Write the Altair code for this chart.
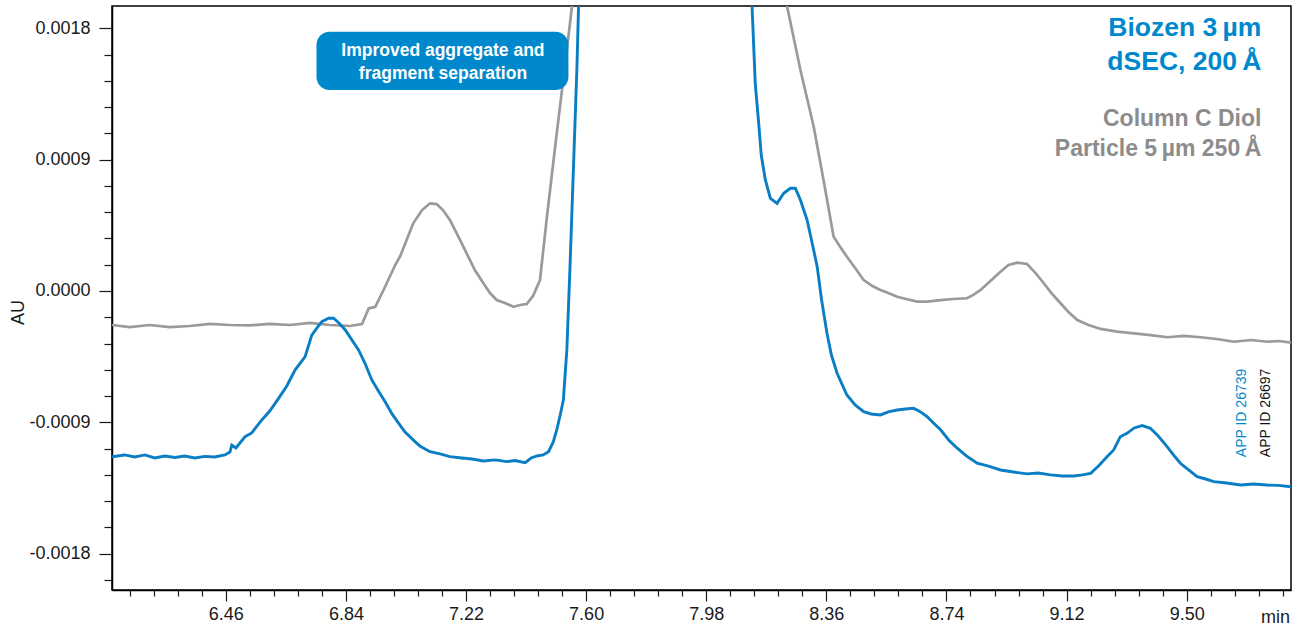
import altair as alt
import pandas as pd

# ---------------- data (retention time in min, absorbance in AU) ----------------
gray_time = [6.100, 6.156, 6.219, 6.283, 6.346, 6.409, 6.473, 6.536, 6.599, 6.663,
             6.726, 6.789, 6.853, 6.891, 6.912, 6.933, 6.964, 6.996, 7.011, 7.053,
             7.081, 7.106, 7.127, 7.147, 7.169, 7.195, 7.222, 7.248, 7.275, 7.296,
             7.317, 7.343, 7.370, 7.391, 7.412, 7.432, 7.454, 7.476, 7.507, 7.539,
             7.555, 7.585, 8.190, 8.236, 8.278, 8.320, 8.351, 8.383, 8.404, 8.425,
             8.451, 8.478, 8.506, 8.531, 8.556, 8.584, 8.613, 8.647, 8.679, 8.721,
             8.762, 8.805, 8.825, 8.848, 8.879, 8.911, 8.936, 8.964, 8.995, 9.022,
             9.048, 9.072, 9.101, 9.126, 9.154, 9.189, 9.228, 9.280, 9.333, 9.386,
             9.439, 9.490, 9.544, 9.595, 9.650, 9.703, 9.756, 9.791, 9.832]
gray_au = [-0.000233, -0.000247, -0.000233, -0.000247, -0.000240, -0.000226, -0.000233,
           -0.000236, -0.000226, -0.000233, -0.000219, -0.000233, -0.000240, -0.000226,
           -0.000119, -0.000108, 0.000029, 0.000178, 0.000235, 0.000464, 0.000555,
           0.000601, 0.000596, 0.000555, 0.000487, 0.000377, 0.000258, 0.000144,
           0.000053, -0.000014, -0.000062, -0.000082, -0.000108, -0.000096, -0.000089,
           -0.000034, 0.000075, 0.000509, 0.001081, 0.001652, 0.001949, 0.002400,
           0.002400, 0.001949, 0.001515, 0.001126, 0.000761, 0.000372, 0.000302,
           0.000235, 0.000158, 0.000075, 0.000034, 0.000007, -0.000014, -0.000039,
           -0.000055, -0.000073, -0.000073, -0.000062, -0.000055, -0.000050, -0.000027,
           0.000007, 0.000069, 0.000132, 0.000178, 0.000194, 0.000185, 0.000123,
           0.000053, -0.000014, -0.000084, -0.000144, -0.000199, -0.000233, -0.000260,
           -0.000279, -0.000290, -0.000302, -0.000317, -0.000308, -0.000317, -0.000329,
           -0.000348, -0.000336, -0.000348, -0.000343, -0.000354]

blue_time = [6.100, 6.140, 6.172, 6.204, 6.235, 6.267, 6.299, 6.330, 6.362, 6.394,
             6.425, 6.457, 6.473, 6.479, 6.492, 6.521, 6.542, 6.574, 6.599, 6.627,
             6.653, 6.679, 6.711, 6.732, 6.748, 6.764, 6.785, 6.801, 6.818, 6.838,
             6.859, 6.880, 6.900, 6.922, 6.941, 6.964, 6.986, 7.007, 7.027, 7.053,
             7.074, 7.106, 7.138, 7.169, 7.207, 7.239, 7.275, 7.312, 7.349, 7.375,
             7.407, 7.426, 7.444, 7.464, 7.481, 7.496, 7.507, 7.518, 7.528, 7.539,
             7.549, 7.560, 7.571, 7.576, 7.582, 8.116, 8.125, 8.135, 8.146, 8.154,
             8.167, 8.183, 8.204, 8.225, 8.246, 8.262, 8.278, 8.299, 8.313, 8.331,
             8.345, 8.362, 8.376, 8.394, 8.408, 8.425, 8.451, 8.478, 8.502, 8.531,
             8.556, 8.584, 8.610, 8.636, 8.657, 8.679, 8.699, 8.722, 8.747, 8.774,
             8.803, 8.837, 8.873, 8.911, 8.952, 8.995, 9.031, 9.069, 9.107, 9.143,
             9.170, 9.196, 9.221, 9.248, 9.269, 9.290, 9.311, 9.334, 9.359, 9.385,
             9.410, 9.438, 9.458, 9.480, 9.506, 9.533, 9.560, 9.586, 9.626, 9.671,
             9.712, 9.754, 9.790, 9.832]
blue_au = [-0.001136, -0.001124, -0.001138, -0.001124, -0.001145, -0.001131, -0.001141,
           -0.001131, -0.001145, -0.001134, -0.001138, -0.001124, -0.001104, -0.001056,
           -0.001076, -0.000999, -0.000973, -0.000884, -0.000823, -0.000736, -0.000651,
           -0.000542, -0.000450, -0.000302, -0.000254, -0.000210, -0.000187, -0.000187,
           -0.000219, -0.000267, -0.000336, -0.000404, -0.000494, -0.000610, -0.000679,
           -0.000759, -0.000843, -0.000907, -0.000967, -0.001021, -0.001063, -0.001102,
           -0.001117, -0.001136, -0.001145, -0.001152, -0.001165, -0.001158, -0.001170,
           -0.001162, -0.001177, -0.001145, -0.001131, -0.001124, -0.001102, -0.001035,
           -0.000953, -0.000850, -0.000747, -0.000404, 0.000167, 0.000852, 0.001538,
           0.001949, 0.002420, 0.002420, 0.001949, 0.001424, 0.001150, 0.000932,
           0.000761, 0.000635, 0.000601, 0.000670, 0.000704, 0.000704, 0.000624,
           0.000487, 0.000350, 0.000167, -0.000062, -0.000290, -0.000439, -0.000564,
           -0.000631, -0.000713, -0.000781, -0.000827, -0.000843, -0.000850, -0.000829,
           -0.000816, -0.000809, -0.000804, -0.000827, -0.000862, -0.000905, -0.000953,
           -0.001021, -0.001078, -0.001131, -0.001181, -0.001200, -0.001227, -0.001241,
           -0.001254, -0.001248, -0.001261, -0.001268, -0.001268, -0.001261, -0.001250,
           -0.001200, -0.001136, -0.001090, -0.000999, -0.000976, -0.000939, -0.000923,
           -0.000941, -0.000994, -0.001067, -0.001124, -0.001181, -0.001227, -0.001273,
           -0.001289, -0.001307, -0.001316, -0.001330, -0.001323, -0.001330, -0.001333,
           -0.001342]

x_major = [6.46, 6.84, 7.22, 7.60, 7.98, 8.36, 8.74, 9.12, 9.50]
x_minor = [6.156, 6.232, 6.308, 6.384, 6.536, 6.612, 6.688, 6.764, 6.916, 6.992,
           7.068, 7.144, 7.296, 7.372, 7.448, 7.524, 7.676, 7.752, 7.828, 7.904,
           8.056, 8.132, 8.208, 8.284, 8.436, 8.512, 8.588, 8.664, 8.816, 8.892,
           8.968, 9.044, 9.196, 9.272, 9.348, 9.424, 9.576, 9.652, 9.728, 9.804]
y_major = [-0.0018, -0.0009, 0.0, 0.0009, 0.0018]
y_minor = [-0.00198, -0.00162, -0.00144, -0.00126, -0.00108, -0.00072, -0.00054,
           -0.00036, -0.00018, 0.00018, 0.00036, 0.00054, 0.00072, 0.00108,
           0.00126, 0.00144, 0.00162]

x_domain = [6.10, 9.83]
y_domain = [-0.00205, 0.001954]

# annotation texts
callout_lines = ["Improved aggregate and", "fragment separation"]
callout_t = [7.147, 7.147]
callout_v = [0.001611, 0.001451]
callout_box = {"t": [6.747], "t2": [7.544], "v": [0.001778], "v2": [0.001378]}

blue_label = ["Biozen 3\u2009µm", "dSEC, 200\u2009Å"]
blue_label_v = [0.001750, 0.001515]
gray_label = ["Column C Diol", "Particle 5\u2009µm 250\u2009Å"]
gray_label_v = [0.001130, 0.000928]
label_t = 9.7364

app_ids = ["APP ID 26739", "APP ID 26697"]
app_t = [9.676, 9.750]
app_v = [-0.000836, -0.000836]

BLUE_LINE = "#0a7ec4"
BLUE = "#0088cc"
GRAY_LINE = "#9a9a9a"
GRAY_TEXT = "#8c8c8c"
NARROW = "'Liberation Sans Narrow', 'Liberation Sans', sans-serif"


def xs(field="t", axis=None):
    return alt.X(f"{field}:Q", scale=alt.Scale(domain=x_domain, nice=False, zero=False), axis=axis)


def ys(field="v", axis=None):
    return alt.Y(f"{field}:Q", scale=alt.Scale(domain=y_domain, nice=False, zero=False), axis=axis)


axis_df = pd.DataFrame({"t": x_domain, "v": y_domain})

major_axes = alt.Chart(axis_df).mark_point(opacity=0).encode(
    x=xs(axis=alt.Axis(values=x_major, format=".2f", orient="bottom", tickSize=11,
                       labelPadding=4, title="min", titleX=1163, titleY=32,
                       titleAlign="center", titleBaseline="alphabetic")),
    y=ys(axis=alt.Axis(values=y_major, format=".4f", orient="left", tickSize=13,
                       labelPadding=9, title="AU", titleX=-94, titleY=306,
                       titleAlign="center", titleBaseline="middle", titleAngle=270,
                       labelExpr="replace(datum.label, '\u2212', '-')")),
)

minor_axes = alt.Chart(axis_df).mark_point(opacity=0).encode(
    x=xs(axis=alt.Axis(values=x_minor, orient="bottom", tickSize=6, labels=False,
                       domain=False, title="")),
    y=ys(axis=alt.Axis(values=y_minor, orient="left", tickSize=8, labels=False,
                       domain=False, title="")),
)

gray_line = alt.Chart(pd.DataFrame({"t": gray_time, "v": gray_au})).mark_line(
    color=GRAY_LINE, strokeWidth=2.7, clip=True
).encode(x=xs(), y=ys())

blue_line = alt.Chart(pd.DataFrame({"t": blue_time, "v": blue_au})).mark_line(
    color=BLUE_LINE, strokeWidth=2.9, clip=True
).encode(x=xs(), y=ys())

box = alt.Chart(pd.DataFrame(callout_box)).mark_rect(
    color=BLUE, cornerRadius=13
).encode(x=xs("t"), x2="t2:Q", y=ys("v"), y2="v2:Q")

callout = alt.Chart(pd.DataFrame({"t": callout_t, "v": callout_v, "s": callout_lines})).mark_text(
    color="white", font=NARROW, fontWeight="bold", fontSize=17.5, align="center",
    baseline="alphabetic"
).encode(x=xs(), y=ys(), text="s:N")

blue_txt = alt.Chart(pd.DataFrame({"t": [label_t] * 2, "v": blue_label_v, "s": blue_label})).mark_text(
    color=BLUE, font=NARROW, fontWeight="bold", fontSize=26.5, align="right",
    baseline="alphabetic"
).encode(x=xs(), y=ys(), text="s:N")

gray_txt = alt.Chart(pd.DataFrame({"t": [label_t] * 2, "v": gray_label_v, "s": gray_label})).mark_text(
    color=GRAY_TEXT, font=NARROW, fontWeight="bold", fontSize=23, align="right",
    baseline="alphabetic"
).encode(x=xs(), y=ys(), text="s:N")

app_txt = alt.Chart(pd.DataFrame({"t": app_t, "v": app_v, "s": app_ids,
                                  "c": [BLUE, "#111111"]})).mark_text(
    font="Liberation Sans", fontSize=14, angle=270, align="center", baseline="middle"
).encode(x=xs(), y=ys(), text="s:N", color=alt.Color("c:N", scale=None))

chart = alt.layer(
    minor_axes, major_axes, gray_line, blue_line, box, callout, blue_txt, gray_txt, app_txt
).resolve_axis(x="independent", y="independent").properties(
    width=1179, height=584,
    autosize=alt.AutoSizeParams(type="none"),
    padding={"left": 112, "top": 6, "right": 4, "bottom": 37},
    background="white",
).configure_view(
    stroke="black", strokeWidth=1.5
).configure_axis(
    grid=False, labelFont="Liberation Sans", labelFontSize=18, labelColor="#1a1a1a",
    titleFont="Liberation Sans", titleFontSize=18, titleFontWeight="normal",
    titleColor="#1a1a1a", tickColor="#1a1a1a", tickWidth=1.2, domainColor="black",
    domainWidth=1.5
)

chart.save("out.html", embed_options={"renderer": "svg", "actions": False})
